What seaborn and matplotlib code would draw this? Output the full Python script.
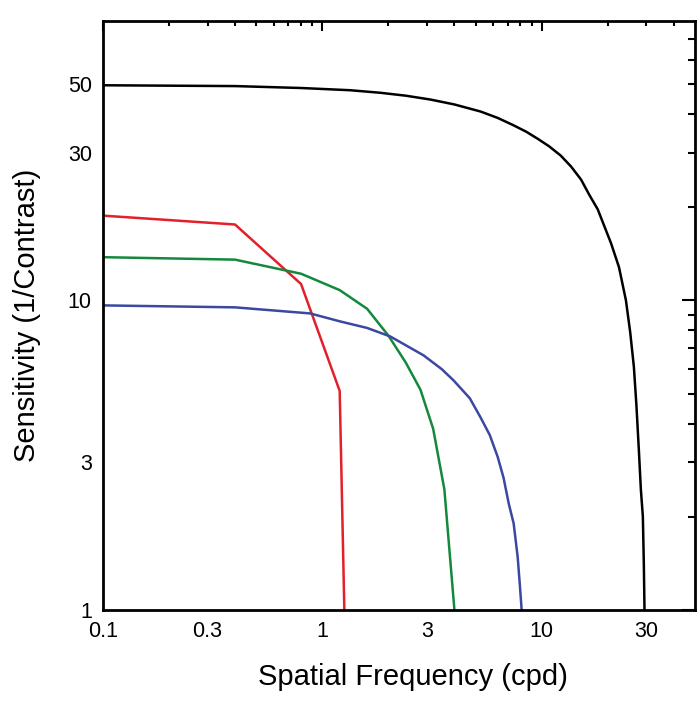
import numpy as np
import pandas as pd
import matplotlib
matplotlib.use("Agg")
import matplotlib.pyplot as plt
from matplotlib.ticker import FixedLocator, NullFormatter
import seaborn as sns

# values (log-log axes)
black_freq = [0.1, 0.4, 0.8, 1.34, 1.84, 2.4, 3.11, 4.0, 5.26, 6.3, 7.45, 8.5,
              9.59, 10.8, 12.2, 13.6, 15.1, 16.5, 18.0, 19.4, 20.7, 22.5, 24.2,
              25.3, 26.3, 27.0, 27.7, 28.3, 28.9, 29.2, 29.4]
black_sens = [49.6, 49.3, 48.6, 47.8, 46.9, 45.9, 44.6, 43.0, 40.8, 38.9, 36.8,
              35.1, 33.3, 31.5, 29.4, 27.1, 24.6, 21.9, 19.7, 17.2, 15.3, 12.8,
              10.0, 7.9, 6.1, 4.6, 3.3, 2.45, 2.0, 1.4, 1.0]

red_freq = [0.1, 0.4, 0.8, 1.2, 1.26]
red_sens = [18.8, 17.6, 11.3, 5.1, 1.0]

green_freq = [0.1, 0.4, 0.8, 1.2, 1.6, 2.0, 2.4, 2.8, 3.2, 3.6, 4.0]
green_sens = [13.8, 13.55, 12.2, 10.8, 9.4, 7.7, 6.3, 5.15, 3.85, 2.45, 1.0]

blue_freq = [0.1, 0.4, 0.88, 1.21, 1.6, 2.04, 2.89, 3.5, 3.96, 4.7, 5.27,
             5.8, 6.3, 6.7, 7.07, 7.45, 7.77, 7.95, 8.1]
blue_sens = [9.64, 9.5, 9.08, 8.55, 8.15, 7.65, 6.65, 6.0, 5.52, 4.83, 4.18,
             3.67, 3.12, 2.67, 2.21, 1.9, 1.48, 1.2, 1.0]

curve_colors = {"black": "#000000", "red": "#e3202a",
                "green": "#14893d", "blue": "#3a48a2"}

xtick_vals = [0.1, 0.3, 1, 3, 10, 30]
xtick_labels = ["0.1", "0.3", "1", "3", "10", "30"]
ytick_vals = [1, 3, 10, 30, 50]
ytick_labels = ["1", "3", "10", "30", "50"]

frames = []
for name, f, s in [("black", black_freq, black_sens), ("red", red_freq, red_sens),
                   ("green", green_freq, green_sens), ("blue", blue_freq, blue_sens)]:
    frames.append(pd.DataFrame({"freq": f, "sens": s, "curve": name}))
df = pd.concat(frames, ignore_index=True)

sns.set_theme(style="white")
plt.rcParams["font.family"] = ["Liberation Sans", "DejaVu Sans"]

fig = plt.figure(figsize=(7.0, 7.01), dpi=100)
ax = fig.add_axes([0.147, 0.130, 0.846, 0.840])

sns.lineplot(data=df, x="freq", y="sens", hue="curve", palette=curve_colors,
             estimator=None, sort=False, linewidth=1.8, legend=False, ax=ax)

ax.set_xscale("log")
ax.set_yscale("log")
ax.set_xlim(0.1, 50)
ax.set_ylim(1, 80)

# x ticks: labels at 1-3 steps, long marks at decades, short marks in between
ax.xaxis.set_major_locator(FixedLocator(xtick_vals))
ax.set_xticklabels(xtick_labels)
ax.xaxis.set_minor_locator(FixedLocator([0.2, 0.4, 0.5, 0.6, 0.7, 0.8, 0.9,
                                         2, 4, 5, 6, 7, 8, 9, 20, 40]))
ax.xaxis.set_minor_formatter(NullFormatter())
ax.yaxis.set_major_locator(FixedLocator(ytick_vals))
ax.set_yticklabels(ytick_labels)
ax.yaxis.set_minor_locator(FixedLocator([2, 4, 5, 6, 7, 8, 9, 20, 40, 60, 70]))
ax.yaxis.set_minor_formatter(NullFormatter())

ax.tick_params(axis="both", which="both", direction="in", top=True, right=True,
               width=1.5, color="black", labelsize=15.5, labelcolor="black")
ax.tick_params(axis="x", which="major", length=7.5, pad=8)
ax.tick_params(axis="x", which="minor", length=3.8)
ax.tick_params(axis="y", which="major", length=9.5, pad=8)
ax.tick_params(axis="y", which="minor", length=5)

# only the decade ticks are long; the labelled 0.3/3/30 ticks are short
for val, tick in zip(xtick_vals, ax.xaxis.get_major_ticks()):
    if val in (0.3, 3, 30):
        tick.tick1line.set_markersize(3.8)
        tick.tick2line.set_markersize(3.8)
for val, tick in zip(ytick_vals, ax.yaxis.get_major_ticks()):
    if val in (3, 30, 50):
        tick.tick1line.set_markersize(5)
        tick.tick2line.set_markersize(5)

for sp in ax.spines.values():
    sp.set_visible(True)
    sp.set_color("black")
    sp.set_linewidth(2)

ax.grid(False)
ax.set_xlabel("Spatial Frequency (cpd)", fontsize=21, color="black")
ax.set_ylabel("Sensitivity (1/Contrast)", fontsize=21, color="black")
ax.xaxis.set_label_coords(0.523, -0.09)
ax.yaxis.set_label_coords(-0.105, 0.5)

fig.savefig("out.png", dpi=100, facecolor="white")
